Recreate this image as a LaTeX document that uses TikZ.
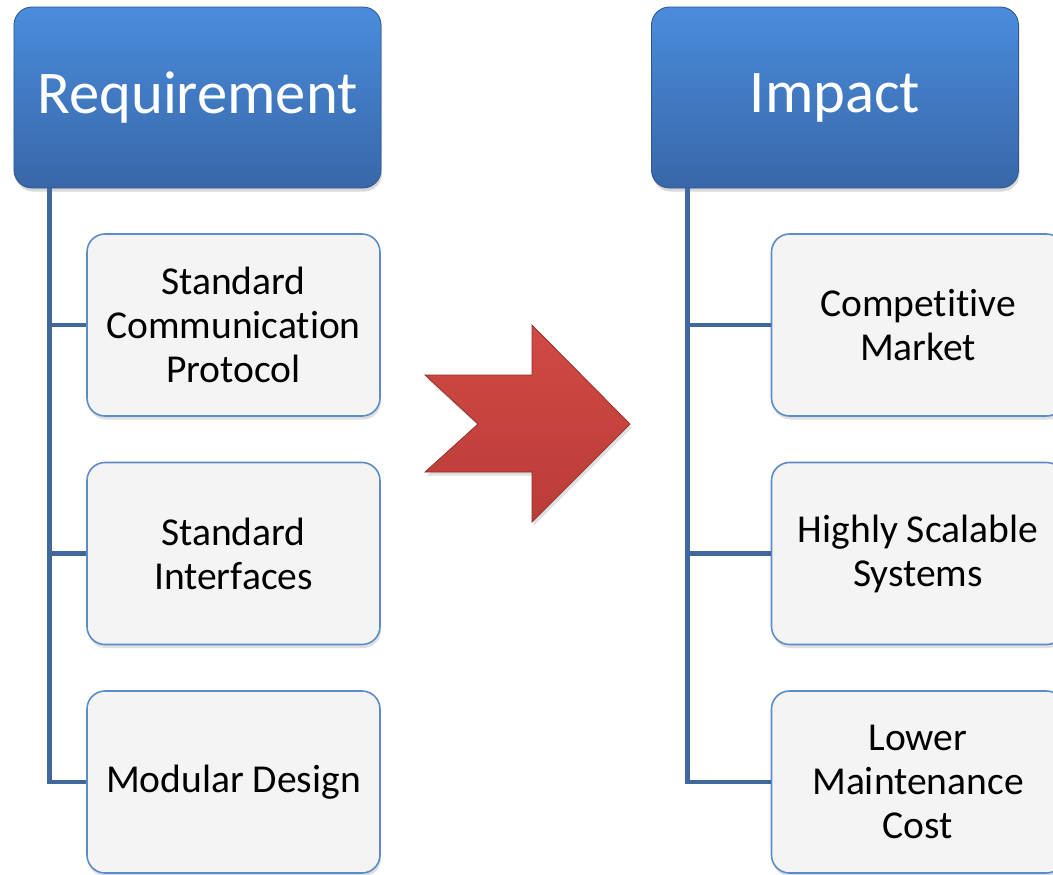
\documentclass[tikz,border=0pt]{standalone}
\usepackage{fontspec}
\setmainfont{Carlito}[Ligatures=NoCommon]
\usetikzlibrary{shadows}
\definecolor{headtop}{HTML}{4A8CDC}
\definecolor{headbot}{HTML}{3867A8}
\definecolor{trunk}{HTML}{41689C}
\definecolor{boxline}{HTML}{5B8CC8}
\definecolor{boxfill}{HTML}{F4F4F4}
\definecolor{arrtop}{HTML}{D24944}
\definecolor{arrbot}{HTML}{BA3C38}

\begin{document}
\begin{tikzpicture}
\tikzset{headbox/.style={rounded corners=0.36cm, minimum width=7.34cm, minimum height=3.62cm, top color=headtop, bottom color=headbot, draw=headbot!85!black, line width=0.5pt, text=white, font=\fontsize{34.5}{40}\selectfont, drop shadow={shadow xshift=0.6pt, shadow yshift=-2pt, opacity=0.3}}}
\tikzset{itembox/.style={rounded corners=0.36cm, minimum width=5.86cm, minimum height=3.64cm, fill=boxfill, draw=boxline, line width=0.9pt, align=center, font=\fontsize{22.5}{25}\selectfont, drop shadow={shadow xshift=0.6pt, shadow yshift=-2pt, opacity=0.25}}}
\tikzset{branch/.style={draw=trunk, line width=2.8pt}}
\tikzset{bigarrow/.style={top color=arrtop, bottom color=arrbot, draw=arrbot!75!black, line width=0.4pt, drop shadow={shadow xshift=1pt, shadow yshift=-2pt, opacity=0.25}}}
    \useasboundingbox (0,0) rectangle (21.06,-17.48);

    \node[headbox] (req) at (3.95,-1.95) {Requirement};
    \node[headbox] (imp) at (16.70,-1.95) {Impact};

    \node[itembox] (scp) at (4.67,-6.50) {Standard\\Communication\\Protocol};
    \node[itembox] (sif) at (4.67,-11.07) {Standard\\Interfaces};
    \node[itembox] (mod) at (4.67,-15.64) {Modular Design};

    \node[itembox] (cmk) at (18.36,-6.50) {Competitive\\Market};
    \node[itembox] (hss) at (18.36,-11.07) {Highly Scalable\\Systems};
    \node[itembox] (lmc) at (18.36,-15.64) {Lower\\Maintenance\\Cost};

    \coordinate (reqT) at ([xshift=0.72cm]req.south west);
    \coordinate (impT) at ([xshift=0.72cm]imp.south west);

    \draw[branch] (reqT) |- (scp.west);
    \draw[branch] (reqT) |- (sif.west);
    \draw[branch] (reqT) |- (mod.west);

    \draw[branch] (impT) |- (cmk.west);
    \draw[branch] (impT) |- (hss.west);
    \draw[branch] (impT) |- (lmc.west);

% % % % % % % % % % % % % % % % % % %
    \path[bigarrow] (8.50,-7.50) -- (10.64,-7.50) -- (10.64,-6.50) -- (12.60,-8.48) -- (10.64,-10.44) -- (10.64,-9.44) -- (8.50,-9.44) -- (9.56,-8.48) -- cycle;

\end{tikzpicture}
\end{document}
